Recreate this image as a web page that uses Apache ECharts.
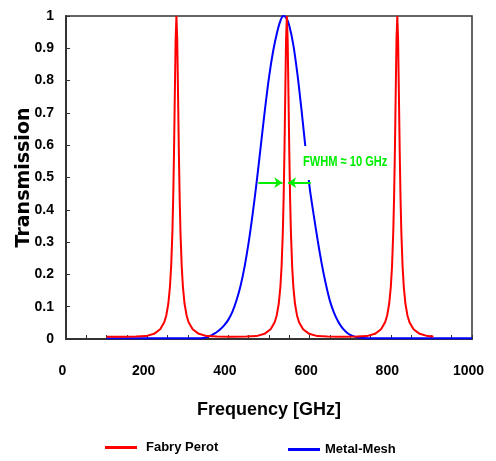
<!DOCTYPE html>
<html>
<head>
<meta charset="utf-8">
<script src="https://cdn.jsdelivr.net/npm/echarts@6/dist/echarts.min.js"></script>
<style>html,body{margin:0;padding:0;background:#fff;}#c{width:496px;height:461px;}</style>
</head>
<body>
<div id="c"></div>
<script>
// Fabry Perot transmission (frequency in GHz)
const fabryPerotFreq = [100,136,172,197,217,232,242,247,252,256,259,262,264,266,268,270,272,274,276,278,280,282,285,288,292,297,302,312,327,347,372,408,
  444,469,489,504,514,519,524,528,531,534,536,538,540,542,544,546,548,550,552,554,557,560,564,569,574,584,599,619,644,680,
  716,741,761,776,786,791,796,800,803,806,808,810,812,814,816,818,820,822,824,826,829,832,836,841,846,856,871,891,905];
const fabryPerotT = [0.007,0.007,0.008,0.009,0.016,0.03,0.052,0.073,0.109,0.161,0.225,0.329,0.434,0.576,0.754,0.925,1.0,0.925,0.754,0.576,0.434,0.329,0.225,0.161,0.109,0.073,0.052,0.03,0.016,0.009,0.008,0.007,
  0.008,0.009,0.016,0.03,0.052,0.073,0.109,0.161,0.225,0.329,0.434,0.576,0.754,0.925,1.0,0.925,0.754,0.576,0.434,0.329,0.225,0.161,0.109,0.073,0.052,0.03,0.016,0.009,0.008,0.007,
  0.008,0.009,0.016,0.03,0.052,0.073,0.109,0.161,0.225,0.329,0.434,0.576,0.754,0.925,1.0,0.925,0.754,0.576,0.434,0.329,0.225,0.161,0.109,0.073,0.052,0.03,0.016,0.009,0.008];
// Metal-Mesh transmission
const metalMeshFreq = [100,250,320,338,350,360,370,380,390,400,410,420,430,440,450,460,470,480,490,500,510,520,528,535,542,550,560,570,580,590,600,610,620,630,640,650,660,670,680,690,700,715,732,800,1000];
const metalMeshT = [0.002,0.002,0.002,0.003,0.007,0.013,0.02,0.03,0.043,0.06,0.085,0.12,0.165,0.225,0.30,0.39,0.49,0.60,0.71,0.81,0.89,0.95,0.985,1.0,0.995,0.97,0.91,0.82,0.71,0.59,0.47,0.385,0.305,0.232,0.17,0.118,0.082,0.055,0.035,0.022,0.013,0.006,0.003,0.002,0.002];
// axis ticks
const xTickLabels = [0,200,400,600,800,1000];
const yTickLabels = [0,0.1,0.2,0.3,0.4,0.5,0.6,0.7,0.8,0.9,1];
const fwhmText = 'FWHM \u2248 10 GHz';

const sans = "'Liberation Sans',Arial,sans-serif";
const zip = (a, b) => a.map((v, i) => [v, b[i]]);

const chart = echarts.init(document.getElementById('c'), null, {renderer: 'canvas'});
chart.setOption({
  animation: false,
  backgroundColor: '#fff',
  grid: {left: 66, top: 16, right: 24, bottom: 122, show: true, borderColor: '#333', borderWidth: 1.5, outerBoundsMode: 'none', containLabel: false},
  legend: [
    {data: ['Fabry Perot'], left: 100, top: 436, itemWidth: 32, itemHeight: 3, icon: 'rect',
     textStyle: {fontFamily: sans, fontWeight: 'bold', fontSize: 13, color: '#000', padding: [0,0,0,4]}},
    {data: ['Metal-Mesh'], left: 283, top: 438, itemWidth: 32, itemHeight: 3, icon: 'rect',
     textStyle: {fontFamily: sans, fontWeight: 'bold', fontSize: 13, color: '#000'}}
  ],
  xAxis: {
    type: 'value', min: 0, max: 1000, interval: 50,
    name: 'Frequency [GHz]', nameLocation: 'middle', nameGap: 62, nameMoveOverlap: false,
    nameTextStyle: {fontFamily: sans, fontWeight: 'bold', fontSize: 18, color: '#000'},
    axisLine: {show: true, lineStyle: {color: '#333', width: 2}},
    axisTick: {show: true, inside: true, length: 4, lineStyle: {color: '#333'}},
    axisLabel: {margin: 25, fontFamily: sans, fontWeight: 'bold', fontSize: 14, color: '#000', padding: [0,7,0,0],
      formatter: v => xTickLabels.includes(v) ? String(v) : ''},
    splitLine: {show: false}
  },
  yAxis: {
    type: 'value', min: 0, max: 1, interval: 0.1,
    name: 'Transmission', nameLocation: 'middle', nameGap: 32, nameRotate: 90, nameMoveOverlap: false,
    nameTextStyle: {fontFamily: "'DejaVu Sans',sans-serif", fontWeight: 'bold', fontSize: 19, color: '#000'},
    axisLine: {show: true, lineStyle: {color: '#333', width: 2}},
    axisTick: {show: true, inside: true, length: 4, lineStyle: {color: '#333'}},
    axisLabel: {margin: 12, fontFamily: sans, fontWeight: 'bold', fontSize: 14, color: '#000',
      formatter: v => { const f = yTickLabels.find(t => Math.abs(t - v) < 1e-9); return f === undefined ? '' : String(f); }},
    splitLine: {show: false}
  },
  series: [
    {name: 'Metal-Mesh', type: 'line', data: zip(metalMeshFreq, metalMeshT), showSymbol: false, smooth: 0.3,
     lineStyle: {color: '#0000ff', width: 2}, itemStyle: {color: '#0000ff'}, z: 2,
     markLine: {silent: true, symbol: ['none', 'arrow'], symbolSize: [8, 8], label: {show: false},
       lineStyle: {color: '#00ee00', width: 2, type: 'solid'},
       data: [
         [{coord: [474, 0.484]}, {coord: [533, 0.484]}],
         [{coord: [603, 0.484]}, {coord: [547, 0.484]}]
       ]}},
    {name: 'Fabry Perot', type: 'line', data: zip(fabryPerotFreq, fabryPerotT), showSymbol: false,
     lineStyle: {color: '#ff0000', width: 2}, itemStyle: {color: '#ff0000'}, z: 3}
  ],
  graphic: [
    {type: 'rect', z: 100, shape: {x: 299, y: 146, width: 92, height: 34}, style: {fill: '#fff'}},
    {type: 'text', z: 101, x: 303, y: 162, scaleX: 0.74, style: {text: fwhmText, fill: '#00ee00', fontFamily: sans, fontWeight: 'bold', fontSize: 15, verticalAlign: 'middle'}}
  ]
});
</script>
</body>
</html>
